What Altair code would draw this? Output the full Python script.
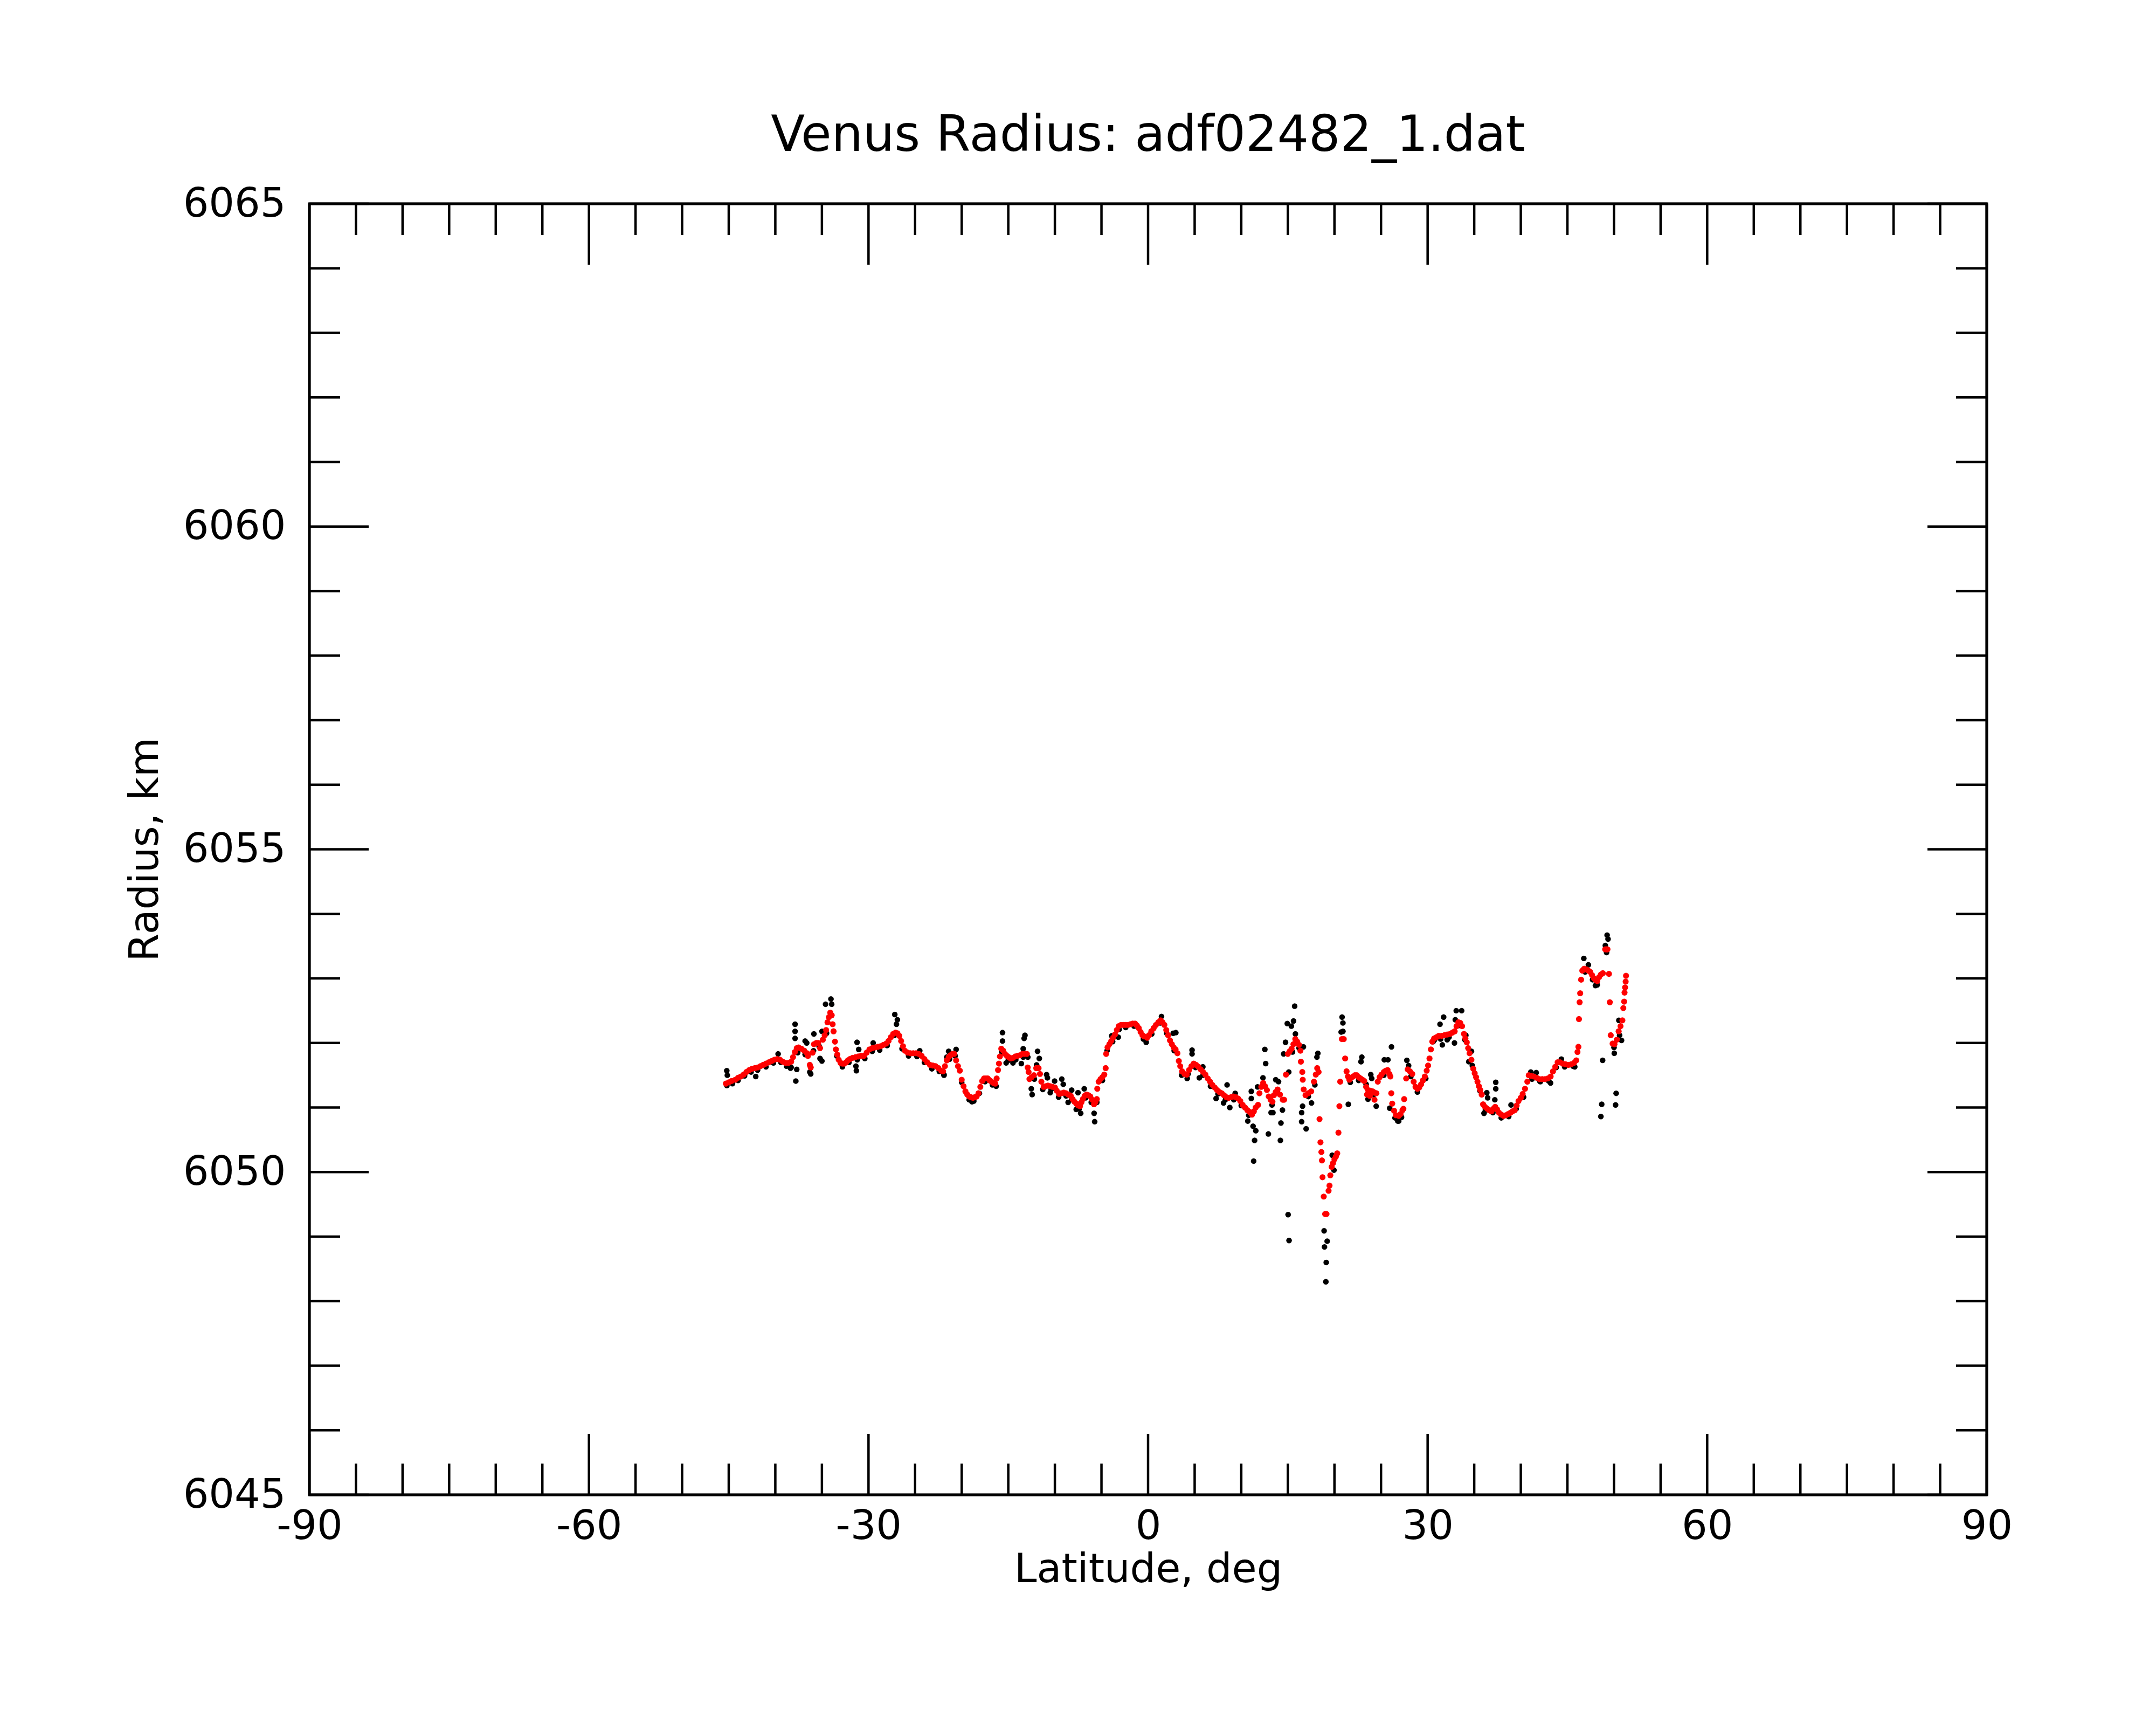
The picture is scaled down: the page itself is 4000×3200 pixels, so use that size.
import altair as alt
import pandas as pd

# ---------------- data (latitude deg, radius km) ----------------
red_south = [
    (-45.3, 6051.37), (-45.0, 6051.39), (-44.7, 6051.41), (-44.3, 6051.43), (-44.0, 6051.46),
    (-43.7, 6051.48), (-43.4, 6051.51), (-43.1, 6051.55), (-42.8, 6051.58), (-42.5, 6051.60),
    (-42.2, 6051.61), (-41.9, 6051.62), (-41.6, 6051.64), (-41.3, 6051.66), (-41.0, 6051.68),
    (-40.7, 6051.70), (-40.4, 6051.72), (-40.1, 6051.74), (-39.8, 6051.75), (-39.5, 6051.74),
    (-39.2, 6051.71), (-38.9, 6051.69), (-38.6, 6051.69), (-38.3, 6051.71), (-38.1, 6051.78),
    (-37.9, 6051.86), (-37.7, 6051.92), (-37.5, 6051.93), (-37.2, 6051.91), (-36.9, 6051.88),
    (-36.6, 6051.84), (-36.5, 6051.80), (-36.3, 6051.66), (-36.2, 6051.62), (-36.0, 6051.85),
    (-35.85, 6051.98), (-35.6, 6052.00), (-35.4, 6052.00), (-35.2, 6051.92), (-34.9, 6052.05),
    (-34.7, 6052.12), (-34.55, 6052.20), (-34.4, 6052.32), (-34.25, 6052.40), (-34.1, 6052.47),
    (-33.95, 6052.43), (-33.85, 6052.29), (-33.75, 6052.18), (-33.6, 6052.02), (-33.5, 6051.90),
    (-33.35, 6051.82), (-33.2, 6051.74), (-33.0, 6051.69), (-32.8, 6051.68), (-32.6, 6051.68),
    (-32.4, 6051.70), (-32.2, 6051.73), (-32.0, 6051.75), (-31.7, 6051.77), (-31.4, 6051.78),
    (-31.1, 6051.79), (-30.8, 6051.80), (-30.5, 6051.80), (-30.2, 6051.85), (-29.9, 6051.90),
    (-29.6, 6051.92), (-29.3, 6051.93), (-29.0, 6051.94), (-28.7, 6051.95), (-28.4, 6051.97),
    (-28.1, 6051.99), (-27.85, 6052.03), (-27.6, 6052.09), (-27.35, 6052.14), (-27.1, 6052.16),
    (-26.9, 6052.15), (-26.7, 6052.11), (-26.5, 6052.03), (-26.3, 6051.95), (-26.1, 6051.88),
    (-25.8, 6051.85), (-25.5, 6051.84), (-25.2, 6051.84), (-24.9, 6051.84), (-24.6, 6051.83),
    (-24.3, 6051.80), (-24.0, 6051.75), (-23.7, 6051.70), (-23.4, 6051.66), (-23.1, 6051.65),
    (-22.8, 6051.64), (-22.5, 6051.61), (-22.2, 6051.57), (-22.0, 6051.56), (-21.8, 6051.64),
    (-21.6, 6051.73), (-21.4, 6051.78), (-21.2, 6051.81), (-21.0, 6051.83), (-20.8, 6051.83),
    (-20.6, 6051.73), (-20.4, 6051.64), (-20.2, 6051.57), (-20.0, 6051.43), (-19.8, 6051.33),
    (-19.6, 6051.25), (-19.4, 6051.20), (-19.2, 6051.17), (-19.0, 6051.16), (-18.8, 6051.15),
    (-18.6, 6051.16), (-18.4, 6051.17), (-18.2, 6051.22), (-18.0, 6051.32), (-17.8, 6051.41),
    (-17.6, 6051.45), (-17.4, 6051.45), (-17.2, 6051.45), (-17.0, 6051.42), (-16.8, 6051.40),
    (-16.6, 6051.38), (-16.4, 6051.37), (-16.25, 6051.45), (-16.1, 6051.58), (-16.0, 6051.68),
    (-15.9, 6051.79), (-15.75, 6051.91), (-15.55, 6051.88), (-15.35, 6051.83), (-15.15, 6051.80),
    (-14.95, 6051.78), (-14.75, 6051.76), (-14.5, 6051.77), (-14.25, 6051.79), (-14.0, 6051.80),
    (-13.75, 6051.81), (-13.5, 6051.83), (-13.25, 6051.83), (-13.0, 6051.83), (-12.92, 6051.62),
    (-12.82, 6051.55), (-12.73, 6051.44), (-12.5, 6051.47), (-12.25, 6051.50), (-12.0, 6051.61),
    (-11.75, 6051.61), (-11.6, 6051.52), (-11.45, 6051.40), (-11.2, 6051.32), (-11.0, 6051.33),
    (-10.75, 6051.34), (-10.5, 6051.33), (-10.25, 6051.32), (-10.0, 6051.31), (-9.8, 6051.26),
    (-9.55, 6051.21), (-9.3, 6051.22), (-9.05, 6051.23), (-8.8, 6051.22), (-8.55, 6051.20),
    (-8.3, 6051.18), (-8.1, 6051.13), (-7.9, 6051.09), (-7.7, 6051.06), (-7.5, 6051.03),
    (-7.3, 6051.02), (-7.15, 6051.08), (-7.0, 6051.13), (-6.8, 6051.18), (-6.6, 6051.20),
    (-6.4, 6051.19), (-6.2, 6051.17), (-6.0, 6051.12), (-5.8, 6051.05), (-5.65, 6051.08),
    (-5.5, 6051.13), (-5.45, 6051.29), (-5.3, 6051.40), (-5.1, 6051.44), (-4.9, 6051.47),
    (-4.7, 6051.51), (-4.55, 6051.61), (-4.5, 6051.83), (-4.35, 6051.93), (-4.15, 6051.98),
    (-3.95, 6052.03), (-3.75, 6052.08), (-3.55, 6052.13), (-3.35, 6052.20), (-3.15, 6052.26),
    (-2.9, 6052.28), (-2.65, 6052.28), (-2.4, 6052.28), (-2.15, 6052.28), (-1.9, 6052.29),
    (-1.65, 6052.30), (-1.4, 6052.30), (-1.2, 6052.27), (-1.0, 6052.23), (-0.8, 6052.17),
    (-0.6, 6052.12), (-0.4, 6052.10), (-0.1, 6052.08),
]
red_north = [
    (0.1, 6052.12), (0.35, 6052.18), (0.6, 6052.23), (0.85, 6052.28), (1.1, 6052.32),
    (1.35, 6052.35), (1.55, 6052.32), (1.75, 6052.28), (1.95, 6052.20), (2.15, 6052.12),
    (2.35, 6052.04), (2.55, 6051.98), (2.75, 6051.93), (2.95, 6051.90), (3.15, 6051.84),
    (3.3, 6051.72), (3.45, 6051.64), (3.65, 6051.56), (3.9, 6051.52), (4.15, 6051.51),
    (4.4, 6051.58), (4.65, 6051.64), (4.9, 6051.68), (5.15, 6051.66), (5.4, 6051.63),
    (5.65, 6051.59), (5.9, 6051.55), (6.15, 6051.51), (6.4, 6051.45), (6.65, 6051.40),
    (6.9, 6051.35), (7.15, 6051.31), (7.4, 6051.27), (7.65, 6051.24), (7.9, 6051.22),
    (8.15, 6051.19), (8.4, 6051.16), (8.65, 6051.15), (8.9, 6051.16), (9.15, 6051.17),
    (9.4, 6051.16), (9.65, 6051.14), (9.9, 6051.10), (10.15, 6051.04), (10.4, 6051.00),
    (10.65, 6050.96), (10.9, 6050.93), (11.15, 6050.89), (11.35, 6050.94), (11.55, 6051.00),
    (11.8, 6051.04), (11.95, 6051.22), (12.15, 6051.32), (12.35, 6051.38), (12.55, 6051.33),
    (12.75, 6051.27), (12.95, 6051.17), (13.15, 6051.12), (13.35, 6051.09), (13.5, 6051.19),
    (13.7, 6051.24), (13.9, 6051.28), (14.15, 6051.20), (14.45, 6051.12), (14.6, 6051.12),
    (14.8, 6051.51), (15.0, 6051.83), (15.2, 6051.87), (15.4, 6051.91), (15.6, 6051.98),
    (15.8, 6052.06), (16.0, 6052.02), (16.2, 6051.97), (16.35, 6051.88), (16.4, 6051.71),
    (16.55, 6051.55), (16.6, 6051.43), (16.7, 6051.28), (16.9, 6051.19), (17.2, 6051.22),
    (17.5, 6051.25), (17.8, 6051.40), (18.0, 6051.51), (18.15, 6051.61), (18.3, 6051.55),
    (18.4, 6050.82), (18.5, 6050.46), (18.6, 6050.31), (18.66, 6050.18), (18.72, 6049.92),
    (18.85, 6049.62), (19.0, 6049.35), (19.15, 6049.35), (19.37, 6049.71), (19.47, 6049.79),
    (19.56, 6049.95), (19.7, 6050.08), (19.85, 6050.14), (20.0, 6050.20), (20.15, 6050.24),
    (20.3, 6050.29), (20.43, 6050.61), (20.53, 6051.02), (20.62, 6051.40), (20.8, 6052.06),
    (21.0, 6052.06), (21.15, 6051.76), (21.3, 6051.56), (21.45, 6051.48), (21.6, 6051.43),
    (21.8, 6051.46), (22.0, 6051.48), (22.2, 6051.50), (22.4, 6051.50), (22.6, 6051.47),
    (22.8, 6051.45), (23.0, 6051.43), (23.2, 6051.41), (23.4, 6051.32), (23.5, 6051.20),
    (23.6, 6051.27), (23.8, 6051.18), (23.85, 6051.26), (24.1, 6051.25), (24.3, 6051.12),
    (24.3, 6051.23), (24.5, 6051.22), (24.65, 6051.40), (24.85, 6051.47), (25.05, 6051.51),
    (25.3, 6051.55), (25.5, 6051.57), (25.7, 6051.58), (25.9, 6051.52), (26.0, 6051.48),
    (26.1, 6051.22), (26.2, 6051.06), (26.4, 6050.95), (26.6, 6050.88), (26.9, 6050.87),
    (27.1, 6050.90), (27.3, 6050.96), (27.4, 6050.98), (27.48, 6051.13), (27.7, 6051.45),
    (27.86, 6051.59), (28.1, 6051.56), (28.35, 6051.52), (28.5, 6051.40), (28.7, 6051.32),
    (28.9, 6051.29), (29.1, 6051.31), (29.3, 6051.36), (29.5, 6051.42), (29.7, 6051.48),
    (29.9, 6051.57), (30.05, 6051.65), (30.2, 6051.76), (30.35, 6051.90), (30.5, 6052.02),
    (30.7, 6052.07), (30.95, 6052.09), (31.2, 6052.11), (31.5, 6052.11), (31.8, 6052.12),
    (32.1, 6052.13), (32.4, 6052.14), (32.65, 6052.16), (32.9, 6052.18), (33.1, 6052.26),
    (33.3, 6052.32), (33.5, 6052.31), (33.7, 6052.26), (33.9, 6052.14), (34.05, 6052.07),
    (34.2, 6052.01), (34.35, 6051.92), (34.5, 6051.84), (34.7, 6051.74), (34.9, 6051.60),
    (35.05, 6051.53), (35.2, 6051.47), (35.35, 6051.40), (35.5, 6051.33), (35.65, 6051.27),
    (35.8, 6051.20), (35.95, 6051.05), (36.15, 6051.01), (36.4, 6050.98), (36.6, 6050.96),
    (36.85, 6050.94), (37.05, 6050.98), (37.25, 6051.01), (37.45, 6050.97), (37.65, 6050.92),
    (37.9, 6050.89), (38.15, 6050.87), (38.4, 6050.88), (38.65, 6050.90), (38.9, 6050.92),
    (39.1, 6050.94), (39.35, 6050.96), (39.55, 6051.03), (39.75, 6051.10), (40.0, 6051.15),
    (40.2, 6051.21), (40.45, 6051.29), (40.7, 6051.40), (40.85, 6051.50), (41.1, 6051.49),
    (41.4, 6051.48), (41.7, 6051.46), (42.0, 6051.44), (42.3, 6051.44), (42.6, 6051.44),
    (42.9, 6051.45), (43.2, 6051.48), (43.45, 6051.56), (43.7, 6051.63), (43.95, 6051.70),
    (44.2, 6051.70), (44.5, 6051.68), (44.8, 6051.67), (45.1, 6051.66), (45.4, 6051.67),
    (45.7, 6051.69), (45.95, 6051.73), (46.08, 6051.86), (46.18, 6051.94), (46.24, 6052.37),
    (46.31, 6052.63), (46.37, 6052.77), (46.47, 6052.98), (46.6, 6053.12), (46.8, 6053.15),
    (47.05, 6053.14), (47.25, 6053.12), (47.45, 6053.10), (47.65, 6053.05), (47.85, 6053.00),
    (48.05, 6052.97), (48.2, 6052.96), (48.4, 6053.02), (48.6, 6053.06), (48.8, 6053.08),
    (49.05, 6053.45), (49.2, 6053.45), (49.3, 6053.45), (49.46, 6053.07), (49.55, 6052.63),
    (49.65, 6052.12), (49.85, 6051.99), (50.05, 6051.98), (50.3, 6052.05), (50.5, 6052.18),
    (50.7, 6052.26), (50.9, 6052.35), (51.0, 6052.54), (51.09, 6052.64), (51.13, 6052.78),
    (51.19, 6052.86), (51.25, 6052.95), (51.29, 6053.04),
]

black_track = [
    (-45.2, 6051.34), (-44.6, 6051.37), (-44.0, 6051.42), (-43.3, 6051.49), (-42.6, 6051.55),
    (-41.9, 6051.58), (-41.0, 6051.63), (-40.2, 6051.69), (-39.4, 6051.70), (-38.8, 6051.64),
    (-38.3, 6051.62), (-37.6, 6051.85), (-36.8, 6051.82), (-36.3, 6051.55), (-35.9, 6051.88),
    (-35.3, 6051.95), (-35.0, 6051.72), (-34.5, 6052.15), (-33.4, 6051.80), (-32.8, 6051.63),
    (-32.1, 6051.70), (-31.2, 6051.74), (-30.4, 6051.76), (-29.6, 6051.87), (-28.8, 6051.89),
    (-28.0, 6051.96), (-27.2, 6052.12), (-26.4, 6051.91), (-25.7, 6051.80), (-24.8, 6051.79),
    (-24.0, 6051.70), (-23.2, 6051.60), (-22.4, 6051.56), (-21.9, 6051.50), (-21.3, 6051.75),
    (-20.7, 6051.80), (-20.0, 6051.39), (-19.2, 6051.12), (-18.7, 6051.10), (-18.1, 6051.22),
    (-17.5, 6051.40), (-16.7, 6051.35), (-16.3, 6051.33), (-15.7, 6051.86), (-15.0, 6051.73),
    (-14.2, 6051.74), (-13.4, 6051.78), (-12.9, 6051.78), (-12.2, 6051.44), (-11.3, 6051.28),
    (-10.4, 6051.28), (-9.6, 6051.16), (-8.8, 6051.18), (-8.2, 6051.12), (-7.4, 6050.98),
    (-6.7, 6051.15), (-6.1, 6051.08), (-5.5, 6051.08), (-4.9, 6051.42), (-4.4, 6051.88),
    (-3.8, 6052.02), (-3.1, 6052.21), (-2.4, 6052.24), (-1.5, 6052.26), (-0.5, 6052.06),
    (0.4, 6052.14), (1.3, 6052.31), (2.0, 6052.15), (2.8, 6051.88), (3.6, 6051.50),
    (4.3, 6051.52), (5.1, 6051.62), (5.9, 6051.50), (6.7, 6051.33), (7.5, 6051.21),
    (8.3, 6051.12), (9.2, 6051.12), (10.0, 6051.03), (10.8, 6050.88), (12.3, 6051.33),
    (13.3, 6051.04), (13.9, 6051.23), (15.5, 6051.86), (16.2, 6051.92), (17.2, 6051.17),
    (17.9, 6051.35), (21.7, 6051.39), (22.6, 6051.42), (23.4, 6051.36), (24.2, 6051.20),
    (25.3, 6051.50), (26.5, 6050.84), (27.2, 6050.85), (28.2, 6051.48), (28.9, 6051.24),
    (29.8, 6051.45), (30.6, 6052.02), (31.4, 6052.06), (32.3, 6052.09), (33.3, 6052.27),
    (34.0, 6052.05), (34.8, 6051.65), (35.6, 6051.26), (36.2, 6050.96), (37.0, 6050.92),
    (37.9, 6050.84), (38.7, 6050.86), (39.5, 6050.98), (40.3, 6051.16), (41.2, 6051.44),
    (42.1, 6051.40), (43.0, 6051.41), (43.8, 6051.62), (44.7, 6051.63), (45.6, 6051.64),
    (46.9, 6053.10), (47.7, 6052.98), (48.2, 6052.90), (49.2, 6053.40), (50.0, 6051.93),
    (50.6, 6052.12),
]
black_scatter = [
    (-45.21, 6051.57), (-45.15, 6051.50), (-37.88, 6052.29), (-37.88, 6052.18), (-37.88, 6052.07),
    (-37.7, 6051.59), (-37.8, 6051.41), (-35.86, 6052.14), (-36.2, 6051.52), (-34.99, 6052.18),
    (-35.2, 6051.76), (-34.61, 6052.60), (-34.03, 6052.68), (-33.95, 6052.60), (-31.23, 6052.01),
    (-31.05, 6051.90), (-31.3, 6051.57), (-31.35, 6051.64), (-29.5, 6052.00), (-27.18, 6052.44),
    (-26.9, 6052.36), (-27.0, 6052.29), (-24.5, 6051.88), (-21.6, 6051.78), (-39.7, 6051.83),
    (-38.37, 6051.61), (-42.1, 6051.48), (-36.63, 6052.00), (-36.8, 6052.03),
    (-15.62, 6052.16), (-15.62, 6052.03), (-13.21, 6052.12), (-13.3, 6052.07), (-13.4, 6051.91),
    (-15.23, 6051.69), (-14.5, 6051.69), (-13.6, 6051.68), (-11.86, 6051.87), (-11.67, 6051.76),
    (-11.96, 6051.66), (-12.53, 6051.29), (-12.44, 6051.20), (-10.89, 6051.51), (-10.8, 6051.46),
    (-10.5, 6051.23), (-10.03, 6051.41), (-9.26, 6051.44), (-9.1, 6051.36), (-8.58, 6051.08),
    (-8.2, 6051.27), (-7.71, 6050.97), (-7.23, 6050.91), (-7.52, 6051.23), (-6.85, 6051.29),
    (-5.79, 6050.91), (-5.73, 6050.78), (1.44, 6052.41), (2.7, 6052.15), (-3.9, 6052.11),
    (-3.2, 6052.09), (-0.2, 6052.01), (-18.9, 6051.09), (-21.4, 6051.87), (-20.6, 6051.90),
    (-21.9, 6051.51),
    (2.98, 6052.16), (4.72, 6051.89), (4.72, 6051.83), (5.88, 6051.63), (4.2, 6051.45),
    (5.5, 6051.46), (7.3, 6051.14), (8.1, 6051.07), (8.48, 6051.35), (8.77, 6051.00),
    (9.35, 6051.22), (10.70, 6050.79), (11.08, 6051.25), (11.08, 6051.14), (11.27, 6050.71),
    (11.56, 6050.64), (11.43, 6050.49), (11.33, 6050.17), (12.53, 6051.90), (12.62, 6051.68),
    (12.33, 6051.46), (11.75, 6051.32), (13.20, 6050.92), (13.40, 6050.92), (12.91, 6050.59),
    (14.26, 6050.76), (14.20, 6050.49), (14.42, 6050.96), (13.7, 6051.43), (14.0, 6051.40),
    (15.03, 6049.34), (15.13, 6048.94), (14.94, 6052.30), (15.38, 6052.26), (15.61, 6052.34),
    (15.73, 6052.57), (15.81, 6052.14), (14.75, 6052.01), (14.55, 6051.83), (15.1, 6051.55),
    (16.67, 6051.94), (16.48, 6050.92), (16.48, 6050.78), (16.96, 6050.67), (16.58, 6051.02),
    (17.54, 6051.07), (18.12, 6051.78), (18.22, 6051.84), (20.82, 6052.40), (20.91, 6052.31),
    (20.91, 6052.18), (20.72, 6052.17), (21.49, 6051.05), (22.94, 6051.78), (22.85, 6051.71),
    (23.90, 6051.51), (24.0, 6051.45), (25.35, 6051.74), (25.74, 6051.74), (26.12, 6051.94),
    (23.6, 6051.13), (24.48, 6051.02), (25.93, 6050.99), (18.89, 6049.09), (19.22, 6048.93),
    (18.93, 6048.84), (19.12, 6048.60), (19.08, 6048.30), (19.76, 6050.26), (19.95, 6050.03),
    (26.80, 6050.79),
    (27.77, 6051.73), (27.96, 6051.65), (26.90, 6050.79), (31.72, 6052.40), (31.33, 6052.29),
    (31.58, 6051.97), (32.88, 6052.00), (33.07, 6052.50), (33.65, 6052.50), (32.97, 6052.36),
    (30.75, 6052.05), (32.1, 6052.05), (34.1, 6052.12), (34.7, 6051.87), (34.42, 6051.71),
    (36.35, 6051.23), (36.44, 6051.15), (37.31, 6051.39), (37.31, 6051.29), (37.21, 6051.12),
    (36.05, 6050.91), (38.95, 6051.04), (41.07, 6051.55), (41.65, 6051.54), (42.03, 6051.41),
    (43.19, 6051.38), (44.35, 6051.75), (45.79, 6051.63), (46.76, 6053.31), (47.25, 6053.21),
    (48.01, 6052.89), (49.26, 6053.67), (49.36, 6053.61), (49.07, 6053.51), (48.78, 6051.73),
    (48.68, 6051.05), (48.59, 6050.86), (50.23, 6051.22), (50.17, 6051.04), (50.03, 6051.84),
    (50.81, 6052.04), (50.52, 6052.35),
]

x_major = [-90, -60, -30, 0, 30, 60, 90]
x_minor = [v for v in range(-85, 90, 5) if v % 30 != 0]
y_major = [6045, 6050, 6055, 6060, 6065]
y_minor = [v for v in range(6046, 6065) if v % 5 != 0]
x_frame = [-90, 90]
y_frame = [6045, 6065]

TITLE = "Venus Radius: adf02482_1.dat"
X_TITLE = "Latitude, deg"
Y_TITLE = "Radius, km"

# ---------------- layout ----------------
W, H = 3112, 2395
FONT = "DejaVu Sans"
MAJ, MIN = 113, 58
TW = 4.5

red_df = pd.DataFrame(red_south + red_north, columns=["lat", "rad"])
black_df = pd.DataFrame(black_track + black_scatter, columns=["lat", "rad"])

xs = alt.Scale(domain=[-90, 90], nice=False, zero=False)
ys = alt.Scale(domain=[6045, 6065], nice=False, zero=False)

x_axis = alt.Axis(values=x_major, title=X_TITLE, ticks=False, tickSize=0, domain=False,
                  grid=False, labelFontSize=75, labelPadding=22, labelFlush=False,
                  labelOverlap=False, labelColor="black", labelFont=FONT, labelLimit=1000,
                  labelExpr="toString(datum.value)",
                  titleFontSize=75, titleFont=FONT, titleFontWeight="normal",
                  titleColor="black", titleY=161, titleBaseline="alphabetic")
y_axis = alt.Axis(values=y_major, title=Y_TITLE, ticks=False, tickSize=0, domain=False,
                  grid=False, labelFontSize=75, labelPadding=44, labelFlush=False,
                  labelOverlap=False, labelColor="black", labelFont=FONT, labelLimit=1000,
                  labelExpr="toString(datum.value)",
                  titleFontSize=75, titleFont=FONT, titleFontWeight="normal",
                  titleColor="black", titleX=-282, titleY=H / 2, titleAngle=270,
                  titleAlign="center", titleBaseline="alphabetic")

black_layer = alt.Chart(black_df).mark_circle(size=110, color="black", opacity=1).encode(
    x=alt.X("lat:Q", scale=xs, axis=x_axis),
    y=alt.Y("rad:Q", scale=ys, axis=y_axis),
)
red_layer = alt.Chart(red_df).mark_circle(size=125, color="#ff0000", opacity=1).encode(
    x=alt.X("lat:Q", scale=xs, axis=x_axis),
    y=alt.Y("rad:Q", scale=ys, axis=y_axis),
)


def xticks(vals, length, bottom):
    df = pd.DataFrame({"lat": vals})
    if bottom:
        yy, yy2 = alt.value(H), alt.value(H - length)
    else:
        yy, yy2 = alt.value(0), alt.value(length)
    return alt.Chart(df).mark_rule(color="black", strokeWidth=TW).encode(
        x=alt.X("lat:Q", scale=xs, axis=x_axis), y=yy, y2=yy2)


def yticks(vals, length, left):
    df = pd.DataFrame({"rad": vals})
    if left:
        xx, xx2 = alt.value(0), alt.value(length)
    else:
        xx, xx2 = alt.value(W), alt.value(W - length)
    return alt.Chart(df).mark_rule(color="black", strokeWidth=TW).encode(
        y=alt.Y("rad:Q", scale=ys, axis=y_axis), x=xx, x2=xx2)


chart = alt.layer(
    black_layer, red_layer,
    xticks(x_major, MAJ, True), xticks(x_minor, MIN, True),
    xticks(x_major, MAJ, False), xticks(x_minor, MIN, False),
    yticks(y_major, 110, True), yticks(y_minor, 57, True),
    yticks(y_major, 110, False), yticks(y_minor, 57, False),
    xticks(x_frame, H, True), yticks(y_frame, W, True),
).properties(
    width=W, height=H,
    title=alt.TitleParams(TITLE, fontSize=92, font=FONT, fontWeight="normal", color="black",
                          anchor="middle", offset=0, dy=31, baseline="alphabetic"),
    autosize=alt.AutoSizeParams(type="none"),
    padding={"left": 566, "top": 370, "right": 306, "bottom": 419},
    background="white",
).configure(
    font=FONT,
    view=alt.ViewConfig(stroke="black", strokeWidth=5, fill="white"),
)

chart.save("out.html", embed_options={"renderer": "svg", "actions": False})
